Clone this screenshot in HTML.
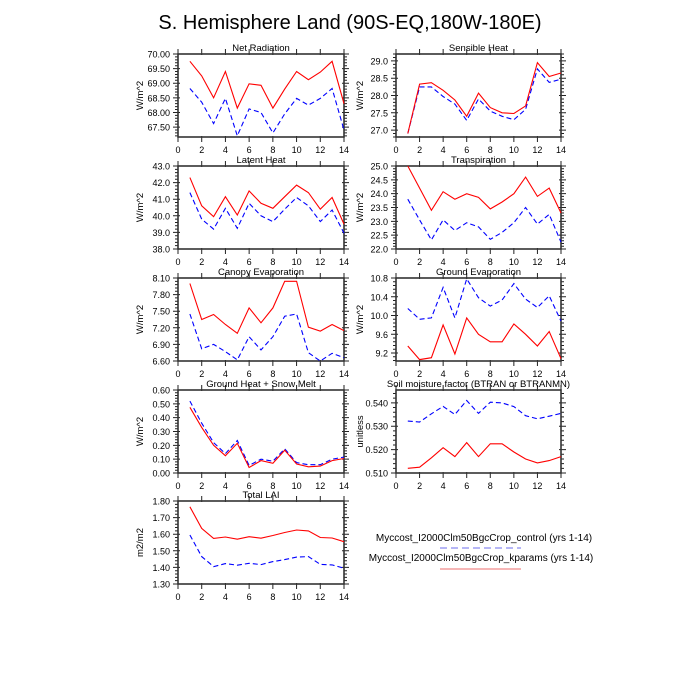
<!DOCTYPE html>
<html><head><style>body{margin:0;background:#fff}svg{display:block}</style></head>
<body>
<svg id="s" width="700" height="700" xmlns="http://www.w3.org/2000/svg" font-family="Liberation Sans, sans-serif">
<rect width="700" height="700" fill="#fff"/>
<text x="350" y="29" font-size="20" text-anchor="middle">S. Hemisphere Land (90S-EQ,180W-180E)</text>
<text x="484" y="541" font-size="10" text-anchor="middle">Myccost_I2000Clm50BgcCrop_control (yrs 1-14)</text>
<line x1="440" y1="548" x2="521" y2="548" stroke="#8a8af0" stroke-width="1.2" stroke-dasharray="7,4"/>
<text x="481" y="561" font-size="10" text-anchor="middle">Myccost_I2000Clm50BgcCrop_kparams (yrs 1-14)</text>
<line x1="440" y1="569" x2="521" y2="569" stroke="#f08a8a" stroke-width="1.2"/>
</svg>
<script>
const S=document.getElementById('s');const NS='http://www.w3.org/2000/svg';
function el(t,a,txt){const e=document.createElementNS(NS,t);for(const k in a)e.setAttribute(k,a[k]);if(txt!==undefined)e.textContent=txt;S.appendChild(e);return e;}
const P=[
{c:0,r:0,t:'Net Radiation',lab:'W/m^2',y0:67.16,y1:70,tk:[67.5,70,0.5],mn:0.1,d:2,
R:[69.75,69.25,68.5,69.4,68.15,68.98,68.93,68.15,68.8,69.4,69.12,69.38,69.75,68.3],
B:[68.82,68.35,67.62,68.48,67.2,68.12,68.0,67.3,67.95,68.48,68.25,68.48,68.82,67.4]},
{c:1,r:0,t:'Sensible Heat',lab:'W/m^2',y0:26.8,y1:29.2,tk:[27,29,0.5],mn:0.1,d:1,
R:[26.9,28.33,28.37,28.15,27.87,27.4,28.07,27.65,27.5,27.48,27.7,28.95,28.55,28.65],
B:[26.9,28.25,28.25,27.97,27.75,27.28,27.9,27.55,27.4,27.3,27.6,28.77,28.38,28.47]},
{c:0,r:1,t:'Latent Heat',lab:'W/m^2',y0:38,y1:43,tk:[38,43,1],mn:0.2,d:1,
R:[42.3,40.6,39.95,41.15,40.05,41.5,40.75,40.45,41.15,41.85,41.4,40.4,41.1,39.5],
B:[41.4,39.8,39.2,40.45,39.25,40.75,40.0,39.65,40.4,41.1,40.6,39.65,40.35,38.95]},
{c:1,r:1,t:'Transpiration',lab:'W/m^2',y0:22,y1:25,tk:[22,25,0.5],mn:0.1,d:1,
R:[25.0,24.2,23.4,24.07,23.8,24.0,23.87,23.45,23.7,24.0,24.6,23.9,24.2,23.3],
B:[23.8,23.05,22.33,23.05,22.67,22.95,22.8,22.35,22.6,22.95,23.5,22.9,23.25,22.25]},
{c:0,r:2,t:'Canopy Evaporation',lab:'W/m^2',y0:6.6,y1:8.1,tk:[6.6,8.1,0.3],mn:0.06,d:2,
R:[8.0,7.35,7.44,7.26,7.1,7.56,7.29,7.56,8.04,8.04,7.21,7.14,7.26,7.15],
B:[7.45,6.82,6.9,6.77,6.62,7.04,6.8,7.04,7.41,7.45,6.75,6.6,6.74,6.66]},
{c:1,r:2,t:'Ground Evaporation',lab:'W/m^2',y0:9.03,y1:10.8,tk:[9.2,10.8,0.4],mn:0.08,d:1,
R:[9.35,9.06,9.1,9.8,9.18,9.95,9.6,9.44,9.44,9.82,9.6,9.35,9.66,9.08],
B:[10.15,9.92,9.95,10.6,9.95,10.78,10.38,10.2,10.33,10.68,10.35,10.17,10.42,9.88]},
{c:0,r:3,t:'Ground Heat + Snow Melt',lab:'W/m^2',y0:0,y1:0.6,tk:[0,0.6,0.1],mn:0.02,d:2,
R:[0.475,0.33,0.2,0.125,0.215,0.04,0.09,0.07,0.165,0.065,0.045,0.05,0.09,0.105],
B:[0.52,0.36,0.22,0.14,0.235,0.055,0.1,0.085,0.175,0.075,0.06,0.06,0.1,0.115]},
{c:1,r:3,t:'Soil moisture factor (BTRAN or BTRANMN)',lab:'unitless',y0:0.51,y1:0.5455,tk:[0.51,0.54,0.01],mn:0.002,d:3,
R:[.512,.5125,.5165,.5208,.517,.523,.517,.5225,.5225,.519,.516,.5143,.5153,.517],
B:[.5322,.5318,.5353,.5385,.535,.541,.5355,.5403,.54,.5384,.5345,.5332,.5343,.5355]},
{c:0,r:4,t:'Total LAI',lab:'m2/m2',y0:1.3,y1:1.8,tk:[1.3,1.8,0.1],mn:0.02,d:2,
R:[1.765,1.635,1.575,1.583,1.57,1.585,1.576,1.592,1.61,1.625,1.62,1.58,1.577,1.555],
B:[1.595,1.465,1.405,1.423,1.413,1.425,1.417,1.435,1.447,1.462,1.465,1.418,1.415,1.395]}
];
const tops=[54,166,278,390,501];
for(const p of P){
 const L=p.c?396:178,Rr=p.c?561:344,T=tops[p.r],Bt=T+83,W=Rr-L,H=Bt-T;
 const X=v=>L+v/14*W,Y=v=>Bt-(v-p.y0)/(p.y1-p.y0)*H;
 const g=[];
 for(let v=0;v<=14.001;v+=2){const x=X(v);
  g.push(`M${x},${Bt-1}v6M${x},${T+1}v-6`);
  el('text',{x:x,y:Bt+16,'font-size':9,'text-anchor':'middle'},String(v));}
 for(let v=p.tk[0]-Math.floor((p.tk[0]-p.y0)/p.mn+1e-6)*p.mn;v<=p.y1+1e-9;v+=p.mn){
  const y=Y(v);if(y<T-0.5||y>Bt+0.5)continue;
  const k=(v-p.tk[0])/p.tk[2];const maj=Math.abs(k-Math.round(k))<1e-4;const l=maj?5:3;
  g.push(`M${L+(maj?2:0)},${y}h${-l-(maj?2:0)}M${Rr-(maj?2:0)},${y}h${l+(maj?2:0)}`);
  if(maj)el('text',{x:L-8,y:y+3.5,'font-size':9,'text-anchor':'end'},v.toFixed(p.d));}
 el('path',{d:g.join(''),stroke:'#222','stroke-width':1,fill:'none'});
 el('rect',{x:L,y:T,width:W,height:H,fill:'none',stroke:'#333','stroke-width':1.6});
 el('text',{x:(L+Rr)/2,y:T-3,'font-size':9.5,'text-anchor':'middle'},p.t);
 const yc=(T+Bt)/2,xl=p.c?363:143;
 el('text',{x:xl,y:yc,'font-size':9.5,'text-anchor':'middle',transform:`rotate(-90 ${xl} ${yc})`},p.lab);
 const pts=a=>a.map((v,i)=>X(i+1).toFixed(1)+','+Y(v).toFixed(1)).join(' ');
 el('polyline',{points:pts(p.B),fill:'none',stroke:'#0000ff','stroke-width':1.1,'stroke-dasharray':'5,3'});
 el('polyline',{points:pts(p.R),fill:'none',stroke:'#ff0000','stroke-width':1.1});
}
</script>
</body></html>
